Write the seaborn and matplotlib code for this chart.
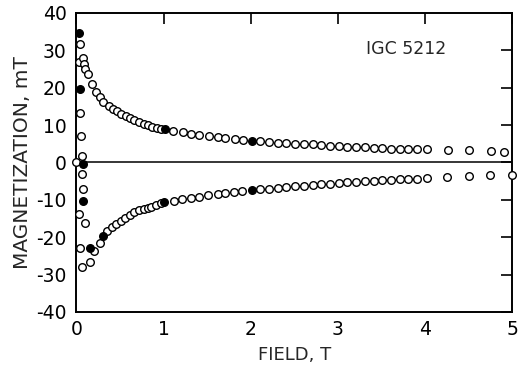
import matplotlib
matplotlib.use("Agg")
import matplotlib.pyplot as plt
import seaborn as sns
import pandas as pd

# ---- data ----
# open circles, upper (positive) branch
up_field = [0.04, 0.025, 0.07, 0.085, 0.10, 0.13, 0.175, 0.22, 0.265, 0.31, 0.37, 0.42,
            0.46, 0.51, 0.57, 0.62, 0.665, 0.72, 0.77, 0.82, 0.87, 0.92, 0.97, 1.11,
            1.22, 1.31, 1.41, 1.52, 1.62, 1.71, 1.82, 1.91, 2.11, 2.21, 2.31, 2.41,
            2.51, 2.61, 2.71, 2.81, 2.91, 3.01, 3.11, 3.21, 3.31, 3.41, 3.51, 3.61,
            3.71, 3.81, 3.91, 4.02, 4.26, 4.51, 4.76, 4.91]
up_mag = [31.6, 26.8, 27.8, 26.3, 24.9, 23.7, 21.0, 18.9, 17.4, 16.1, 15.0, 14.3,
          13.7, 13.0, 12.3, 11.8, 11.3, 10.7, 10.2, 9.9, 9.5, 9.1, 9.0, 8.3,
          8.0, 7.6, 7.3, 7.1, 6.9, 6.6, 6.3, 5.9, 5.6, 5.4, 5.2, 5.1,
          5.0, 4.9, 4.8, 4.6, 4.5, 4.4, 4.2, 4.1, 4.0, 3.9, 3.8, 3.7,
          3.6, 3.6, 3.6, 3.5, 3.2, 3.3, 3.0, 2.8]

# open circles, scattered points close to zero field
mid_field = [0.04, 0.05, 0.06, 0.0, 0.06, 0.07]
mid_mag = [13.3, 7.0, 1.7, 0.0, -3.0, -7.2]

# open circles, lower (negative) branch
low_field = [0.03, 0.10, 0.04, 0.06, 0.155, 0.205, 0.265, 0.355, 0.41, 0.45, 0.51,
             0.56, 0.61, 0.665, 0.72, 0.77, 0.82, 0.86, 0.91, 0.97, 1.12, 1.21,
             1.31, 1.41, 1.51, 1.62, 1.71, 1.81, 1.90, 2.11, 2.21, 2.31, 2.41,
             2.51, 2.61, 2.71, 2.81, 2.91, 3.01, 3.11, 3.21, 3.31, 3.41, 3.51,
             3.61, 3.71, 3.81, 3.91, 4.02, 4.25, 4.50, 4.75, 5.0]
low_mag = [-13.9, -16.1, -23.0, -27.9, -26.6, -23.6, -21.6, -18.3, -17.2, -16.4, -15.6,
           -14.8, -14.0, -13.4, -12.8, -12.4, -12.1, -11.8, -11.5, -10.9, -10.2, -9.9,
           -9.5, -9.2, -8.7, -8.4, -8.1, -7.8, -7.6, -7.2, -7.0, -6.8, -6.6,
           -6.4, -6.3, -6.0, -5.9, -5.7, -5.5, -5.3, -5.2, -5.1, -4.9, -4.8,
           -4.7, -4.5, -4.4, -4.4, -4.2, -3.8, -3.6, -3.5, -3.3]

# filled circles
fill_field = [0.03, 0.04, 0.07, 0.08, 0.15, 0.30, 1.02, 1.01, 2.01, 2.01]
fill_mag = [34.6, 19.6, -0.5, -10.4, -22.9, -19.8, 8.8, -10.6, 5.6, -7.5]

x_ticks = [0, 1, 2, 3, 4, 5]
y_ticks = [-40, -30, -20, -10, 0, 10, 20, 30, 40]
x_label = "FIELD, T"
y_label = "MAGNETIZATION, mT"
sample_label = "IGC 5212"

open_df = pd.DataFrame({
    "field": up_field + mid_field + low_field,
    "mag": up_mag + mid_mag + low_mag,
})
fill_df = pd.DataFrame({"field": fill_field, "mag": fill_mag})

sns.set_style("white")
plt.rcParams["font.family"] = ["DejaVu Sans"]

fig = plt.figure(figsize=(5.2, 3.67), dpi=100)
ax = fig.add_axes([0.147, 0.150, 0.838, 0.815])

ax.axhline(0, color="black", lw=1.1, zorder=1)

sns.scatterplot(data=open_df, x="field", y="mag", ax=ax, marker="o", s=30,
                facecolor="white", edgecolor="black", linewidth=1.0,
                clip_on=False, zorder=3)
sns.scatterplot(data=fill_df, x="field", y="mag", ax=ax, marker="o", s=30,
                color="black", edgecolor="black", linewidth=1.0,
                clip_on=False, zorder=4)

ax.set_xlim(0, 5)
ax.set_ylim(-40, 40)
ax.set_xticks(x_ticks)
ax.set_yticks(y_ticks)
ax.set_xticklabels([str(t) for t in x_ticks])
ax.set_yticklabels([str(t) for t in y_ticks])
ax.tick_params(direction="in", length=8, width=1.2, top=True, right=True,
               labelsize=13.5, colors="black")
ax.tick_params(axis="y", pad=7)
ax.tick_params(axis="x", pad=6)

for sp in ax.spines.values():
    sp.set_visible(True)
    sp.set_color("black")
    sp.set_linewidth(1.4)

ax.set_xlabel(x_label, fontsize=13, labelpad=5)
ax.set_ylabel(y_label, fontsize=14.5, labelpad=3)
ax.text(0.665, 0.88, sample_label, transform=ax.transAxes, fontsize=12.5,
        ha="left", va="center")

fig.savefig("out.png", dpi=100, facecolor="white")
